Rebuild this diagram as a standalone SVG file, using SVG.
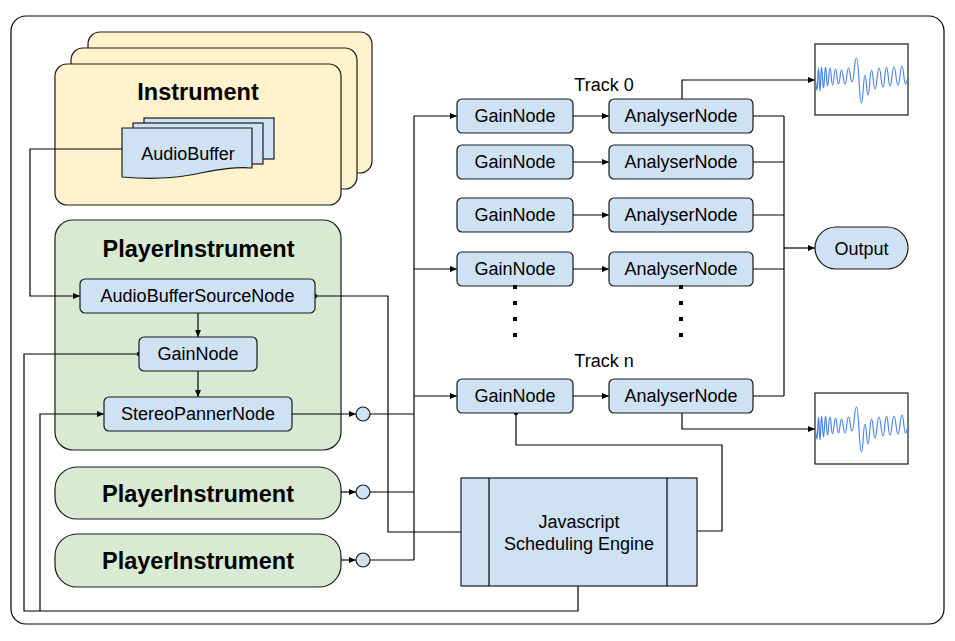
<svg xmlns="http://www.w3.org/2000/svg" width="955" height="641" viewBox="0 0 955 641">
<style>
  .frame{fill:#fff;stroke:#000;stroke-width:1.2}
  .inst{fill:#fff2cc;stroke:#1a1a1a;stroke-width:1.2}
  .player{fill:#d9ead3;stroke:#1a1a1a;stroke-width:1.2}
  .node{fill:#cfe2f3;stroke:#1a1a1a;stroke-width:1.2}
  .wbox{fill:#fff;stroke:#1a1a1a;stroke-width:1.2}
  .wave{fill:none;stroke:#4a86e8;stroke-width:1.2}
  .ln{fill:none;stroke:#000;stroke-width:1.2}
  .arr{marker-end:url(#arrow)}
  .dot{marker-end:url(#dot)}
  .t{font-family:"Liberation Sans",Arial,sans-serif;font-size:18px;fill:#000;text-anchor:middle}
  .tb{font-family:"Liberation Sans",Arial,sans-serif;font-size:23.5px;font-weight:bold;fill:#000;text-anchor:middle}
  .sq{fill:#000}
</style>
<defs>
  <marker id="arrow" markerUnits="userSpaceOnUse" markerWidth="8" markerHeight="8" refX="7" refY="4" orient="auto">
    <path d="M0,1 L7,4 L0,7 z" fill="#000"/>
  </marker>
  <marker id="dot" markerUnits="userSpaceOnUse" markerWidth="6" markerHeight="6" refX="3" refY="3" orient="auto">
    <circle cx="3" cy="3" r="2.2" fill="#000"/>
  </marker>
  <path id="wave" class="wave" d="M0,35 C1,35 1,46 2,46 C2.75,46 2.75,24 3.5,24 C4.25,24 4.25,47 5,47 C5.75,47 5.75,23 6.5,23 C7.5,23 7.5,44 8.5,44 C9.5,44 9.5,23 10.5,23 C11.5,23 11.5,42 12.5,42 C13.75,42 13.75,24 15,24 C16.25,24 16.25,41 17.5,41 C19,41 19,25 20.5,25 C22,25 22,40 23.5,40 C25,40 25,26 26.5,26 C28.25,26 28.25,40 30,40 C31.75,40 31.75,24 33.5,24 C35.25,24 35.25,38 37,38 C39.25,38 39.25,14 41.5,14 C44,14 44,59 46.5,59 C48.25,59 48.25,31 50,31 C51.5,31 51.5,51 53,51 C54.75,51 54.75,26 56.5,26 C58.25,26 58.25,45 60,45 C62,45 62,24 64,24 C66,24 66,43 68,43 C69.75,43 69.75,23 71.5,23 C73.25,23 73.25,42 75,42 C77,42 77,23 79,23 C81,23 81,41 83,41 C85,41 85,22 87,22 C88.75,22 88.75,40 90.5,40 C91.75,40 93,32 93,30"/>
</defs>

<rect class="frame" x="11" y="16" width="933" height="608" rx="15"/>

<g id="instrument">
  <rect class="inst" x="88" y="32" width="284" height="141" rx="12"/>
  <rect class="inst" x="71" y="48" width="286" height="141" rx="12"/>
  <rect class="inst" x="55" y="64" width="286" height="141" rx="12"/>
  <text class="tb" x="198" y="100">Instrument</text>
</g>
<g id="audiobuffer">
  <rect class="node" x="144" y="118" width="130" height="41"/>
  <rect class="node" x="133" y="123" width="130" height="41"/>
  <path class="node" d="M122,128 H252 V168 C232,166 212,171 190,175 C168,179 145,179 122,177 Z"/>
  <text class="t" x="188" y="160">AudioBuffer</text>
</g>

<g id="player1">
  <rect class="player" x="55" y="220" width="286" height="230" rx="18"/>
  <text class="tb" x="198.5" y="257">PlayerInstrument</text>
</g>
<g id="player2">
  <rect class="player" x="55" y="467" width="286" height="52" rx="22"/>
  <text class="tb" x="198" y="502">PlayerInstrument</text>
</g>
<g id="player3">
  <rect class="player" x="55" y="534" width="286" height="53" rx="22"/>
  <text class="tb" x="198" y="569">PlayerInstrument</text>
</g>

<g id="connectors">
  <path class="ln arr" d="M122,149 H30 V296 H80"/>
  <path class="ln arr" d="M198,313 V337"/>
  <path class="ln arr" d="M198,371 V397"/>
  <path class="ln arr" d="M292,414 H356"/>
  <path class="ln" d="M370,414 H414"/>
  <path class="ln arr" d="M341,492 H356"/>
  <path class="ln" d="M370,492 H414"/>
  <path class="ln arr" d="M341,560 H356"/>
  <path class="ln" d="M370,560 H414"/>
  <path class="ln" d="M414,116 V560"/>
  <path class="ln arr" d="M414,116 H457"/>
  <path class="ln arr" d="M414,269 H457"/>
  <path class="ln arr" d="M414,396 H457"/>
  <path class="ln arr" d="M573,116 H609"/>
  <path class="ln arr" d="M573,162 H609"/>
  <path class="ln arr" d="M573,215 H609"/>
  <path class="ln arr" d="M573,269 H609"/>
  <path class="ln arr" d="M573,396 H609"/>
  <path class="ln" d="M753,116 H784 M753,162 H784 M753,215 H784 M753,269 H784 M753,396 H784 M784,116 V396"/>
  <path class="ln arr" d="M784,248 H815"/>
  <path class="ln arr" d="M682,99 V80 H815"/>
  <path class="ln arr" d="M682,413 V429 H815"/>
  <path class="ln dot" d="M461,532 H388 V296 H315"/>
  <path class="ln dot" d="M697,531 H722 V445 H516 V413"/>
  <path class="ln dot" d="M578,586 V611 H24 V354 H139"/>
  <path class="ln arr" d="M40,611 V414 H104"/>
</g>

<g id="absn">
  <rect class="node" x="80" y="279" width="235" height="34" rx="5"/>
  <text class="t" x="197.5" y="302">AudioBufferSourceNode</text>
</g>
<g id="gain-inner">
  <rect class="node" x="139" y="337" width="118" height="34" rx="5"/>
  <text class="t" x="198" y="360">GainNode</text>
</g>
<g id="panner">
  <rect class="node" x="104" y="397" width="188" height="34" rx="5"/>
  <text class="t" x="198" y="420">StereoPannerNode</text>
</g>

<g id="junction1"><circle class="node" cx="363" cy="414" r="7"/></g>
<g id="junction2"><circle class="node" cx="363" cy="492" r="7"/></g>
<g id="junction3"><circle class="node" cx="363" cy="560" r="7"/></g>

<text class="t" x="604" y="91">Track 0</text>
<text class="t" x="604" y="367">Track n</text>

<g id="gain0"><rect class="node" x="457" y="99" width="116" height="34" rx="5"/><text class="t" x="515" y="122">GainNode</text></g>
<g id="an0"><rect class="node" x="609" y="99" width="144" height="34" rx="5"/><text class="t" x="681" y="122">AnalyserNode</text></g>
<g id="gain1"><rect class="node" x="457" y="145" width="116" height="34" rx="5"/><text class="t" x="515" y="168">GainNode</text></g>
<g id="an1"><rect class="node" x="609" y="145" width="144" height="34" rx="5"/><text class="t" x="681" y="168">AnalyserNode</text></g>
<g id="gain2"><rect class="node" x="457" y="198" width="116" height="34" rx="5"/><text class="t" x="515" y="221">GainNode</text></g>
<g id="an2"><rect class="node" x="609" y="198" width="144" height="34" rx="5"/><text class="t" x="681" y="221">AnalyserNode</text></g>
<g id="gain3"><rect class="node" x="457" y="252" width="116" height="34" rx="5"/><text class="t" x="515" y="275">GainNode</text></g>
<g id="an3"><rect class="node" x="609" y="252" width="144" height="34" rx="5"/><text class="t" x="681" y="275">AnalyserNode</text></g>
<g id="gainn"><rect class="node" x="457" y="379" width="116" height="34" rx="5"/><text class="t" x="515" y="402">GainNode</text></g>
<g id="ann"><rect class="node" x="609" y="379" width="144" height="34" rx="5"/><text class="t" x="681" y="402">AnalyserNode</text></g>

<g id="ellipsis">
  <rect class="sq" x="513" y="285" width="4" height="4"/>
  <rect class="sq" x="513" y="301" width="4" height="4"/>
  <rect class="sq" x="513" y="317" width="4" height="4"/>
  <rect class="sq" x="513" y="333" width="4" height="4"/>
  <rect class="sq" x="679" y="285" width="4" height="4"/>
  <rect class="sq" x="679" y="301" width="4" height="4"/>
  <rect class="sq" x="679" y="317" width="4" height="4"/>
  <rect class="sq" x="679" y="333" width="4" height="4"/>
</g>

<g id="output">
  <rect class="node" x="815" y="227" width="93" height="42" rx="21"/>
  <text class="t" x="861.5" y="255">Output</text>
</g>

<g id="wave0">
  <rect class="wbox" x="815" y="44" width="93" height="71"/>
  <use href="#wave" x="815" y="44"/>
</g>
<g id="waven">
  <rect class="wbox" x="815" y="393" width="93" height="71"/>
  <use href="#wave" x="815" y="393"/>
</g>

<g id="engine">
  <rect class="node" x="461" y="478" width="236" height="108"/>
  <path class="ln" d="M489,478 V586 M667,478 V586"/>
  <text class="t" x="579" y="528">Javascript</text>
  <text class="t" x="579" y="550">Scheduling Engine</text>
</g>
</svg>
